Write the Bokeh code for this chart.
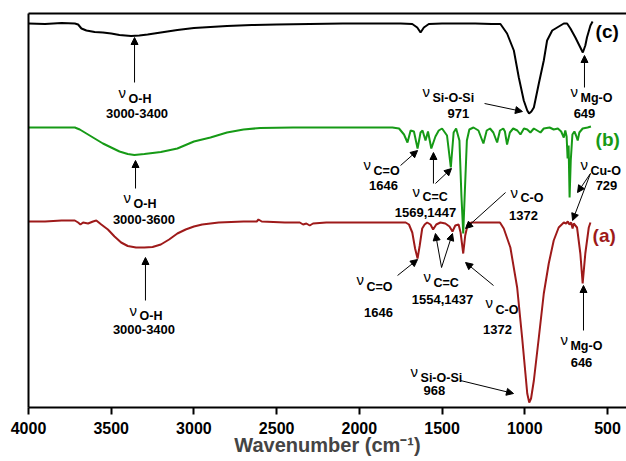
from bokeh.plotting import figure
from bokeh.models import Range1d, FixedTicker, LinearAxis, Arrow, NormalHead, ColumnDataSource
from bokeh.core.properties import value
from bokeh.embed import file_html
from bokeh.resources import INLINE

# ---------------- data (wavenumber in cm-1, transmittance in a.u., offset traces) -------------
wn_c = [4000, 3900, 3800, 3720, 3700, 3680, 3650, 3600, 3550, 3500, 3450, 3380, 3330, 3280, 3200,
        3100, 3000, 2900, 2800, 2650, 2500, 2300, 2100, 1900, 1750, 1680, 1650, 1630, 1610, 1580,
        1500, 1300, 1200, 1147, 1107, 1066, 1036, 1006, 985, 974, 960, 945, 915, 885, 865, 834,
        804, 764, 744, 724, 694, 664, 649, 634, 624, 603, 590]
t_c = [384, 383.5, 384.5, 384, 383, 379, 377, 375.5, 375, 374, 372.5, 371.5, 372, 373, 375,
       377.5, 379.5, 380.5, 381.5, 382.5, 383, 383.5, 384, 384, 384, 383.5, 380, 375, 380, 383.5,
       384, 384, 383.5, 383.5, 374, 357, 330, 307, 297, 294, 296, 300, 324, 347, 367, 377,
       380, 384, 384, 379, 370, 360, 355, 362, 370, 382, 386]

wn_b = [4000, 3800, 3720, 3690, 3650, 3600, 3550, 3500, 3450, 3400, 3360, 3300, 3200, 3100, 3000,
        2900, 2800, 2700, 2600, 2400, 2000, 1800, 1760, 1730, 1709, 1690, 1670, 1648, 1630, 1618,
        1600, 1585, 1565, 1540, 1520, 1500, 1470, 1447, 1430, 1415, 1395, 1383, 1372, 1362, 1350,
        1335, 1310, 1280, 1250, 1230, 1210, 1190, 1167, 1150, 1130, 1120, 1107, 1090, 1070, 1045,
        1026, 1005, 985, 966, 945, 905, 885, 850, 825, 800, 780, 764, 755, 747, 741, 735, 729,
        722, 712, 700, 690, 680, 670, 650, 620, 600]
t_b = [280, 280, 280, 278, 274, 269, 264, 260, 256, 253.5, 252.5, 253.5, 255.5, 259, 266,
       270, 275, 278, 279.5, 280, 280, 280, 279, 273, 265, 277, 276, 259, 275, 277,
       267, 276, 259, 271, 277, 279, 272, 240, 275, 279, 267, 212, 174, 217, 267,
       278, 280, 277, 264, 277, 279, 275, 265, 277, 279, 276, 263, 275, 279, 277,
       273, 279, 278, 275, 279, 275, 279, 280, 278, 279, 276, 270, 277, 271, 249, 262, 210,
       247, 273, 276, 272, 267, 275, 279, 280, 281]

wn_a = [4000, 3900, 3800, 3720, 3700, 3686, 3670, 3640, 3610, 3590, 3560, 3520, 3480, 3440, 3400,
        3350, 3300, 3250, 3200, 3150, 3100, 3050, 3000, 2950, 2850, 2700, 2620, 2610, 2590, 2450,
        2360, 2340, 2320, 2300, 2280, 2200, 2000, 1800, 1720, 1700, 1680, 1663, 1648, 1635, 1620,
        1605, 1590, 1570, 1554, 1535, 1510, 1480, 1455, 1437, 1420, 1400, 1388, 1372, 1360, 1345,
        1320, 1200, 1150, 1127, 1087, 1046, 1016, 996, 985, 973, 962, 945, 915, 885, 855, 825,
        795, 764, 750, 740, 730, 720, 711, 704, 684, 664, 650, 634, 613, 603]
t_a = [186, 186, 187, 187, 185, 183, 185, 184, 186, 187, 183, 178, 171, 165, 161.5,
       160, 160, 160.5, 163, 168, 174, 178, 181, 183, 185, 186, 186, 188, 186, 185,
       185, 183, 184, 182, 184, 185, 185, 185, 185, 183, 175, 159, 149, 162, 179,
       183, 185, 183, 178, 183, 185, 184, 181, 176, 182, 183, 175, 154, 172, 183,
       185, 185, 185, 179, 160, 120, 70, 34, 14, 5, 9, 27, 70, 114, 144, 167,
       180, 185, 184, 186, 183, 185, 179, 184, 180, 154, 124, 154, 180, 185]

x_ticks = [4000, 3500, 3000, 2500, 2000, 1500, 1000, 500]

RED = "#9e1a1a"
GREEN = "#169a16"
BLACK = "#000000"
FONT = "Liberation Sans"

# ---------------- annotations ----------------
# (nu left x, nu baseline y, subscript left x, subscript baseline y, subscript, number centre x, number baseline y, number)
labels = [
    (3456, 315, 3395, 309, "O-H", 3344, 294, "3000-3400"),
    (1618, 316, 1558, 310, "Si-O-Si", 1401, 294, "971"),
    (724, 316, 663, 310, "Mg-O", 639, 294, "649"),
    (3426, 210, 3365, 204, "O-H", 3302, 188, "3000-3600"),
    (1975, 243, 1914, 237, "C=O", 1854, 222, "1646"),
    (1679, 216, 1618, 211, "C=C", 1600, 195, "1569,1447"),
    (1086, 215, 1026, 210, "C-O", 1008, 192, "1372"),
    (663, 243, 603, 237, "Cu-O", 506, 222, "729"),
    (3389, 97, 3329, 92, "O-H", 3302, 78, "3000-3400"),
    (2017, 128, 1957, 121, "C=O", 1884, 95, "1646"),
    (1612, 131, 1552, 125, "C=C", 1497, 108, "1554,1437"),
    (1237, 105, 1177, 98, "C-O", 1165, 78, "1372"),
    (784, 68, 724, 62, "Mg-O", 657, 45, "646"),
    (1691, 36, 1630, 30, "Si-O-Si", 1546, 17, "968"),
]
arrows = [
    (3359, 325, 3359, 370), (1243, 304, 1014, 296), (639, 320, 639, 352),
    (3353, 219, 3353, 247), (1751, 242, 1648, 257), (1552, 224, 1552, 255),
    (1540, 224, 1443, 239), (1116, 215, 1358, 179), (603, 234, 681, 215),
    (603, 234, 711, 187),
    (3293, 107, 3293, 150), (1769, 132, 1648, 148), (1503, 140, 1540, 174),
    (1503, 140, 1437, 174), (1189, 122, 1358, 145), (645, 77, 645, 122),
    (1389, 27, 1068, 14),
]
trace_tags = [(572, 376, "(c)", BLACK), (572, 268, "(b)", GREEN), (590, 172, "(a)", RED)]

p = figure(width=626, height=461, output_backend="svg", toolbar_location=None,
           x_range=Range1d(4000, 385), y_range=Range1d(0, 394),
           min_border_left=28, min_border_right=0, min_border_top=13, min_border_bottom=54,
           x_axis_location=None, y_axis_location=None)
p.outline_line_color = None
p.xgrid.visible = False
p.ygrid.visible = False
p.background_fill_color = "white"
p.border_fill_color = "white"

xax = LinearAxis(ticker=FixedTicker(ticks=x_ticks))
xax.axis_line_width = 2
xax.major_tick_line_width = 2
xax.major_tick_out = 7
xax.major_tick_in = 0
xax.minor_tick_line_color = None
xax.major_label_standoff = 7
xax.major_label_text_font = FONT
xax.major_label_text_font_style = "bold"
xax.major_label_text_font_size = "16px"
xax.major_label_text_color = "black"
xax.axis_label = "Wavenumber (cm⁻¹)"
xax.axis_label_text_font = FONT
xax.axis_label_text_font_style = "bold"
xax.axis_label_text_font_size = "20px"
xax.axis_label_standoff = -3
p.add_layout(xax, "below")

for loc in ("left", "above"):
    ax = LinearAxis(ticker=FixedTicker(ticks=[]))
    ax.axis_line_width = 2
    ax.major_tick_line_color = None
    ax.minor_tick_line_color = None
    ax.major_label_standoff = 0
    p.add_layout(ax, loc)

p.line(wn_c, t_c, line_color=BLACK, line_width=2)
p.line(wn_b, t_b, line_color=GREEN, line_width=2)
p.line(wn_a, t_a, line_color=RED, line_width=2)

for (x0, y0, x1, y1) in arrows:
    p.add_layout(Arrow(x_start=x0, y_start=y0, x_end=x1, y_end=y1, line_width=1, line_color="black",
                       end=NormalHead(size=7, fill_color="black", line_color="black", line_width=1)))

nu_src = ColumnDataSource(dict(x=[l[0] for l in labels], y=[l[1] for l in labels], t=["ν"] * len(labels)))
sub_src = ColumnDataSource(dict(x=[l[2] for l in labels], y=[l[3] for l in labels], t=[l[4] for l in labels]))
num_src = ColumnDataSource(dict(x=[l[5] for l in labels], y=[l[6] for l in labels], t=[l[7] for l in labels]))

p.text("x", "y", text="t", source=nu_src, text_font=value(FONT), text_font_size="15px",
       text_baseline="alphabetic", text_align="left", text_color="black")
p.text("x", "y", text="t", source=sub_src, text_font=value(FONT), text_font_size="12.5px",
       text_font_style="bold", text_baseline="alphabetic", text_align="left", text_color="black")
p.text("x", "y", text="t", source=num_src, text_font=value(FONT), text_font_size="13px",
       text_font_style="bold", text_baseline="alphabetic", text_align="center", text_color="black")

tag_src = ColumnDataSource(dict(x=[t[0] for t in trace_tags], y=[t[1] for t in trace_tags],
                                t=[t[2] for t in trace_tags], c=[t[3] for t in trace_tags]))
p.text("x", "y", text="t", source=tag_src, text_font=value(FONT), text_font_size="19px",
       text_font_style="bold", text_baseline="alphabetic", text_align="left", text_color="c")

open("out.html", "w").write(file_html(p, INLINE))
